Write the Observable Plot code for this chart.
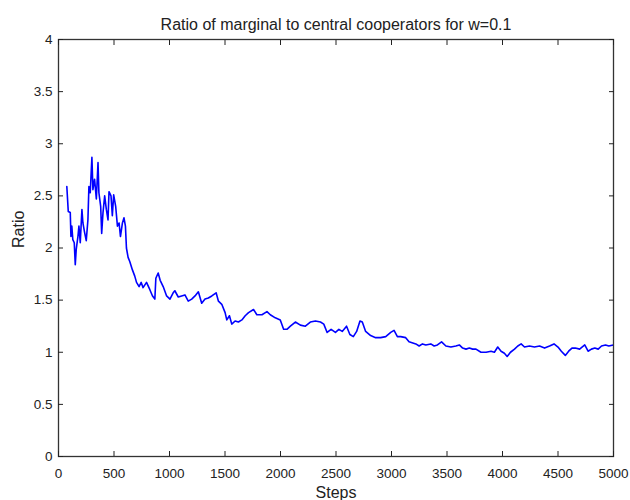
<!DOCTYPE html>
<html><head><meta charset="utf-8">
<script src="https://cdn.jsdelivr.net/npm/d3@7"></script>
<script src="https://cdn.jsdelivr.net/npm/@observablehq/plot@0.6"></script>
<style>body{margin:0;background:#fff}</style>
</head><body><div id="chart"></div>
<script>
const title = "Ratio of marginal to central cooperators for w=0.1";
const xLabel = "Steps";
const yLabel = "Ratio";
const xTicks = [0, 500, 1000, 1500, 2000, 2500, 3000, 3500, 4000, 4500, 5000];
const yTicks = [0, 0.5, 1, 1.5, 2, 2.5, 3, 3.5, 4];
const steps = [75, 88, 106, 112, 120, 129, 142, 151, 160, 175, 184, 196, 211, 220, 235, 250, 265, 274, 286, 301, 310, 325, 341, 356, 364, 380, 389, 401, 416, 431, 446, 455, 473, 485, 497, 515, 531, 546, 558, 576, 590, 603, 612, 627, 642, 666, 687, 703, 726, 745, 762, 793, 823, 847, 868, 877, 898, 916, 943, 974, 1004, 1033, 1048, 1079, 1109, 1139, 1169, 1200, 1230, 1260, 1290, 1320, 1350, 1381, 1420, 1441, 1471, 1501, 1516, 1540, 1561, 1591, 1621, 1652, 1682, 1712, 1757, 1787, 1833, 1878, 1908, 1953, 1998, 2028, 2058, 2089, 2134, 2179, 2224, 2269, 2315, 2360, 2390, 2420, 2456, 2495, 2526, 2556, 2595, 2625, 2656, 2686, 2716, 2737, 2767, 2812, 2857, 2902, 2948, 2993, 3023, 3053, 3083, 3128, 3158, 3219, 3249, 3279, 3309, 3354, 3384, 3414, 3451, 3490, 3535, 3580, 3611, 3641, 3671, 3701, 3731, 3761, 3806, 3852, 3897, 3927, 3957, 3987, 4017, 4042, 4072, 4108, 4138, 4168, 4198, 4243, 4288, 4334, 4379, 4424, 4464, 4500, 4530, 4566, 4596, 4626, 4656, 4695, 4741, 4771, 4801, 4832, 4862, 4892, 4928, 4958, 4998];
const ratio = [2.59, 2.35, 2.34, 2.11, 2.21, 2.08, 2.05, 1.84, 1.99, 2.11, 2.21, 2.05, 2.37, 2.24, 2.15, 2.07, 2.27, 2.59, 2.53, 2.87, 2.56, 2.66, 2.47, 2.82, 2.53, 2.40, 2.14, 2.34, 2.50, 2.37, 2.27, 2.54, 2.50, 2.31, 2.51, 2.40, 2.21, 2.24, 2.11, 2.24, 2.29, 2.21, 2.00, 1.91, 1.87, 1.79, 1.73, 1.67, 1.63, 1.67, 1.62, 1.67, 1.60, 1.54, 1.51, 1.71, 1.76, 1.69, 1.63, 1.54, 1.51, 1.57, 1.59, 1.53, 1.54, 1.55, 1.49, 1.51, 1.54, 1.58, 1.47, 1.51, 1.52, 1.54, 1.57, 1.49, 1.46, 1.38, 1.31, 1.35, 1.27, 1.30, 1.29, 1.31, 1.35, 1.38, 1.41, 1.36, 1.36, 1.39, 1.36, 1.33, 1.31, 1.22, 1.22, 1.25, 1.29, 1.26, 1.25, 1.29, 1.30, 1.29, 1.27, 1.19, 1.22, 1.19, 1.22, 1.20, 1.25, 1.17, 1.15, 1.20, 1.30, 1.29, 1.20, 1.16, 1.14, 1.14, 1.15, 1.19, 1.21, 1.15, 1.15, 1.14, 1.10, 1.08, 1.06, 1.08, 1.07, 1.08, 1.06, 1.07, 1.10, 1.06, 1.05, 1.06, 1.07, 1.04, 1.03, 1.04, 1.03, 1.03, 1.00, 1.00, 1.01, 1.00, 1.05, 1.01, 0.99, 0.96, 1.00, 1.03, 1.06, 1.08, 1.05, 1.06, 1.05, 1.06, 1.04, 1.06, 1.08, 1.05, 1.01, 0.97, 1.01, 1.04, 1.04, 1.03, 1.07, 1.01, 1.03, 1.04, 1.03, 1.06, 1.07, 1.06, 1.07];

const data = steps.map((s, i) => ({step: s, ratio: ratio[i]}));
const font = "'Liberation Sans', Arial, sans-serif";

const chart = Plot.plot({
  width: 630, height: 500,
  marginLeft: 58, marginRight: 17, marginTop: 39, marginBottom: 44,
  style: {fontFamily: font, fontSize: "13.5px", color: "#222", background: "#fff"},
  x: {domain: [0, 5000]},
  y: {domain: [0, 4]},
  marks: [
    Plot.line(data, {x: "step", y: "ratio", stroke: "#0000ff", strokeWidth: 1.6}),
    Plot.frame({stroke: "#333", strokeWidth: 1.3}),
    Plot.axisX(xTicks, {anchor: "bottom", tickSize: -5, tickPadding: 17, tickFormat: d => String(d), label: null}),
    Plot.axisX(xTicks, {anchor: "top", tickSize: -5, tickFormat: () => "", label: null}),
    Plot.axisY(yTicks, {anchor: "left", tickSize: -5, tickPadding: 11, tickFormat: d => String(d), label: null}),
    Plot.axisY(yTicks, {anchor: "right", tickSize: -5, tickFormat: () => "", label: null}),
    Plot.text([title], {frameAnchor: "top", dy: -21, fontSize: 16, fill: "#222", text: d => d}),
    Plot.text([xLabel], {frameAnchor: "bottom", dy: 41, fontSize: 16, fill: "#222", text: d => d}),
    Plot.text([yLabel], {frameAnchor: "left", dx: -40, rotate: -90, fontSize: 16, fill: "#222", text: d => d})
  ]
});
document.getElementById("chart").append(chart);
</script>
</body></html>
